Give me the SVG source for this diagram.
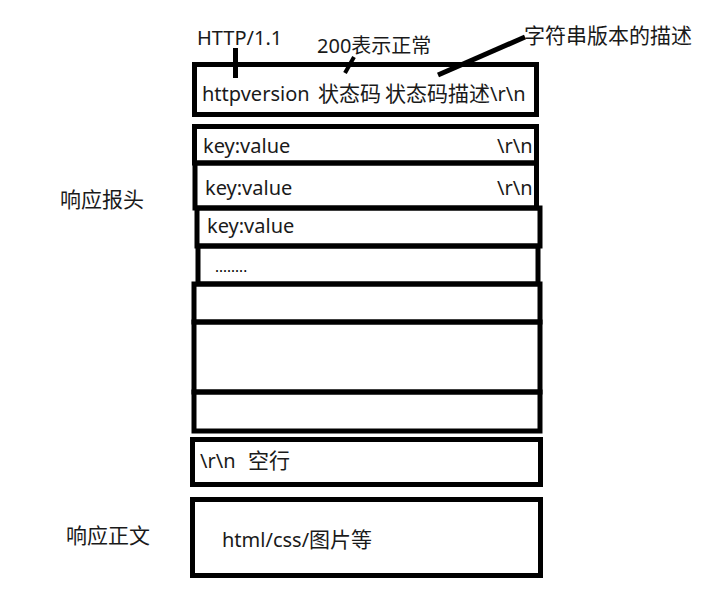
<svg xmlns="http://www.w3.org/2000/svg" width="713" height="596" viewBox="0 0 713 596">
<style>
  .box { fill: none; stroke: #000; stroke-width: 5; }
  .t { font-family: "Noto Sans", "Noto Sans CJK SC", sans-serif; font-size: 20px; fill: #1a1a1a; }
  .cjk { font-size: 21px; }
  .ln { stroke: #000; stroke-width: 5; stroke-linecap: butt; fill: none; }
</style>
<rect width="713" height="596" fill="#fff"/>

<g id="labels">
  <text class="t" x="197" y="45">HTTP/1.1</text>
  <text class="t" x="317" y="53">200表示正常</text>
  <text class="t cjk" x="524" y="43">字符串版本的描述</text>
  <text class="t cjk" x="60" y="207">响应报头</text>
  <text class="t cjk" x="66" y="543">响应正文</text>
</g>

<g id="status-line">
  <rect class="box" x="194.5" y="64.5" width="342" height="50"/>
  <text class="t" y="101"><tspan x="202">httpversion</tspan><tspan x="318" class="cjk">状态码</tspan><tspan x="385" class="cjk">状态码描述</tspan><tspan>\r\n</tspan></text>
</g>

<g id="header-1">
  <rect class="box" x="194.5" y="126.5" width="342" height="36.5"/>
  <text class="t" x="203" y="153">key:value</text>
  <text class="t" x="497" y="153">\r\n</text>
</g>
<g id="header-2">
  <rect class="box" x="195" y="163" width="341.5" height="45"/>
  <text class="t" x="205" y="195">key:value</text>
  <text class="t" x="497" y="195">\r\n</text>
</g>
<g id="header-3">
  <rect class="box" x="197" y="208" width="343" height="38"/>
  <text class="t" x="207" y="233">key:value</text>
</g>
<g id="header-4">
  <rect class="box" x="198" y="246" width="340" height="38"/>
  <text class="t" x="215" y="272" style="font-size:15px;fill:#000">........</text>
</g>
<g id="header-5">
  <rect class="box" x="194" y="284" width="346" height="38"/>
</g>
<g id="header-6">
  <rect class="box" x="194" y="322" width="346" height="70"/>
</g>
<g id="header-7">
  <rect class="box" x="194" y="392" width="346" height="39"/>
</g>

<g id="blank-line">
  <rect class="box" x="192.5" y="439.5" width="348" height="45"/>
  <text class="t" y="468"><tspan x="200">\r\n</tspan><tspan x="248" class="cjk">空行</tspan></text>
</g>

<g id="body">
  <rect class="box" x="192.5" y="499.5" width="348" height="76"/>
  <text class="t" x="222" y="547">html/css/<tspan class="cjk">图片等</tspan></text>
</g>

<g id="connectors">
  <line class="ln" x1="235.5" y1="48" x2="235.5" y2="78"/>
  <line class="ln" x1="354" y1="57" x2="345" y2="73" style="stroke-width:4"/>
  <line class="ln" x1="525" y1="37" x2="438" y2="75"/>
</g>
</svg>
